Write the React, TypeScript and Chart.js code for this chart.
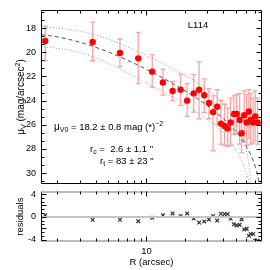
import React, { useEffect, useRef } from 'react';
import { Chart, registerables } from 'chart.js';

Chart.register(...registerables);

// ---- data ----
const radiusArcsec = [1.62, 3.8, 6.21, 8.63, 11.1, 13.45, 16.0, 18.5, 20.8, 23.4, 25.8, 28.3, 30.8, 33.2, 35.7, 38.2, 40.8, 43.1, 45.5, 48.3, 50.7, 53.5, 55.4, 58.1, 60.7, 63.2, 65.2, 68.3, 70.8, 73.9];
const surfBright = [19.07, 19.15, 20.05, 20.5, 21.6, 22.5, 23.2, 23.1, 24.0, 23.4, 23.1, 23.55, 24.2, 24.95, 24.5, 25.9, 26.1, 26.3, 25.8, 25.1, 25.1, 25.6, 26.7, 25.2, 25.8, 24.9, 25.6, 25.8, 25.3, 25.8];
const errUp = [1.23, 1.65, 1.15, 2.15, 1.4, 1.1, 0.8, 1.3, 1.4, 1.55, 2.3, 1.35, 1.2, 1.35, 1.4, 1.9, 1.8, 1.7, 2.0, 1.5, 1.6, 2.2, 1.5, 2.0, 2.3, 1.8, 2.2, 2.0, 2.1, 2.0];
const errDown = [1.63, 1.55, 1.15, 2.1, 1.3, 1.05, 0.8, 1.3, 1.3, 1.55, 2.4, 1.45, 1.3, 3.2, 1.45, 1.7, 1.6, 1.5, 1.9, 1.7, 1.6, 2.0, 1.6, 2.2, 1.9, 2.2, 2.0, 1.7, 2.0, 1.8];
const residuals = [0.3, -0.5, -0.5, -0.75, -0.15, 0.3, 0.6, 0.15, 0.6, -0.3, -1.0, -0.8, -0.45, 0.15, -0.65, 0.55, 0.5, 0.5, -0.3, -1.3, -1.5, -1.4, -0.45, -2.2, -2.1, -3.3, -3.0, -3.0, -4.2, -4.2];

// best-fit profile (dashed) and bounds (dotted)
const fitR = [1.5, 2, 3, 5, 8, 12, 18, 25, 35, 45, 55, 60, 65, 69, 72, 76, 79];
const fitMu = [18.55, 18.72, 19.16, 19.96, 20.91, 21.85, 22.89, 23.84, 24.97, 26.02, 27.11, 27.73, 28.43, 29.11, 29.72, 30.8, 32.1];
const upperR = [1.5, 3, 5, 8, 11, 16, 22, 30, 40, 46, 50, 55, 60, 63, 66];
const upperMu = [17.85, 18.25, 18.9, 19.8, 20.5, 21.35, 22.15, 23.1, 24.2, 24.95, 25.6, 26.7, 28.0, 29.2, 31.0];
const lowerR = [1.5, 3, 5, 8, 12, 18, 22, 28.6, 34, 40, 45, 50, 55, 60, 64, 68];
const lowerMu = [19.5, 20.0, 20.9, 22.0, 23.0, 24.0, 24.6, 25.4, 26.0, 26.7, 27.4, 28.1, 28.9, 29.9, 30.9, 32.2];

// ticks
const xMajorTicks = [10];
const xMinorTicks = [2, 3, 4, 5, 6, 7, 8, 9, 20, 30, 40, 50, 60, 70, 80];
const muTicks = [18, 20, 22, 24, 26, 28, 30];
const muMinorTicks = [16.67, 17.33, 18.67, 19.33, 20.67, 21.33, 22.67, 23.33, 24.67, 25.33, 26.67, 27.33, 28.67, 29.33, 30.67];
const resTicks = [-4, -2, 0, 2, 4];
const resMinorTicks = [-3.33, -2.67, -1.33, -0.67, 0.67, 1.33, 2.67, 3.33];

const FAM = '"Liberation Sans", Arial, Helvetica, sans-serif';
Chart.defaults.font.family = FAM;
Chart.defaults.color = '#000';

type Part = { t: string; s: number; dy?: number };

function measureRich(ctx: CanvasRenderingContext2D, parts: Part[]) {
  let w = 0;
  for (const p of parts) {
    ctx.font = `${p.s}px ${FAM}`;
    w += ctx.measureText(p.t).width;
  }
  return w;
}
function drawRich(ctx: CanvasRenderingContext2D, parts: Part[], x: number, y: number) {
  let cx = x;
  for (const p of parts) {
    ctx.font = `${p.s}px ${FAM}`;
    ctx.fillText(p.t, cx, y + (p.dy || 0));
    cx += ctx.measureText(p.t).width;
  }
}

const noPad = (s: any) => {
  s.paddingTop = 0;
  s.paddingBottom = 0;
  s.paddingLeft = 0;
  s.paddingRight = 0;
};

const frameTicks = {
  id: 'frameTicks',
  afterDatasetsDraw(chart: any, _args: any, opts: any) {
    const { ctx, chartArea: a, scales } = chart;
    const xs = scales.x, ys = scales.y;
    const L = Math.round(a.left) + 0.5, R = Math.round(a.right) - 0.5;
    const T = Math.round(a.top) + 0.5, B = Math.round(a.bottom) - 0.5;
    ctx.save();
    ctx.lineWidth = 1;
    ctx.strokeStyle = '#000';
    ctx.beginPath();
    ctx.moveTo(L, T); ctx.lineTo(L, B);
    ctx.moveTo(R, T); ctx.lineTo(R, B);
    if (!opts.grayTB) {
      ctx.moveTo(L, T); ctx.lineTo(R, T);
      ctx.moveTo(L, B); ctx.lineTo(R, B);
    }
    ctx.stroke();
    if (opts.grayTB) {
      ctx.strokeStyle = '#bdbdbd';
      ctx.lineWidth = 2;
      ctx.beginPath();
      ctx.moveTo(L, T + 0.5); ctx.lineTo(R, T + 0.5);
      ctx.moveTo(L, B - 0.5); ctx.lineTo(R, B - 0.5);
      ctx.stroke();
    }
    ctx.strokeStyle = '#000';
    ctx.lineWidth = 1;
    ctx.beginPath();
    const yt = (vals: number[], len: number) => {
      for (const v of vals) {
        const p = Math.round(ys.getPixelForValue(v)) + 0.5;
        if (p < a.top || p > a.bottom) continue;
        ctx.moveTo(L, p); ctx.lineTo(L + len, p);
        ctx.moveTo(R, p); ctx.lineTo(R - len, p);
      }
    };
    const xt = (vals: number[], len: number) => {
      for (const v of vals) {
        const p = Math.round(xs.getPixelForValue(v)) + 0.5;
        if (p < a.left || p > a.right) continue;
        ctx.moveTo(p, B); ctx.lineTo(p, B - len);
        ctx.moveTo(p, T); ctx.lineTo(p, T + len);
      }
    };
    yt(opts.yMajor, 5);
    yt(opts.yMinor, 3);
    xt(xMajorTicks, 5);
    xt(xMinorTicks, 3);
    ctx.stroke();
    ctx.restore();
  },
};

const errorBars = {
  id: 'errorBars',
  beforeDatasetsDraw(chart: any) {
    const { ctx, chartArea: a, scales } = chart;
    const xs = scales.x, ys = scales.y;
    ctx.save();
    ctx.beginPath();
    ctx.rect(a.left, a.top, a.right - a.left, a.bottom - a.top);
    ctx.clip();
    ctx.strokeStyle = 'rgba(244,150,150,0.85)';
    ctx.lineWidth = 1.3;
    ctx.beginPath();
    radiusArcsec.forEach((r, i) => {
      const x = xs.getPixelForValue(r);
      const y1 = ys.getPixelForValue(surfBright[i] - errUp[i]);
      const y2 = ys.getPixelForValue(surfBright[i] + errDown[i]);
      ctx.moveTo(x, y1); ctx.lineTo(x, y2);
      ctx.moveTo(x - 2.5, y1); ctx.lineTo(x + 2.5, y1);
      ctx.moveTo(x - 2.5, y2); ctx.lineTo(x + 2.5, y2);
    });
    ctx.stroke();
    ctx.restore();
  },
};

const mainText = {
  id: 'mainText',
  afterDraw(chart: any) {
    const { ctx, chartArea: a } = chart;
    ctx.save();
    ctx.fillStyle = '#000';
    ctx.textBaseline = 'alphabetic';
    ctx.textAlign = 'left';
    ctx.font = `9.5px ${FAM}`;
    const lw = ctx.measureText('L114').width;
    ctx.fillText('L114', 198 - lw / 2, 28);
    drawRich(ctx, [
      { t: 'μ', s: 10 },
      { t: 'V0', s: 7, dy: 2 },
      { t: ' = 18.2 ± 0.8 mag (*)', s: 9.5 },
      { t: '−2', s: 7, dy: -4 },
    ], 54, 130);
    drawRich(ctx, [
      { t: 'r', s: 9.5 },
      { t: 'c', s: 7, dy: 2 },
      { t: ' =  2.6 ± 1.1 "', s: 9.5 },
    ], 90, 152);
    drawRich(ctx, [
      { t: 'r', s: 9.5 },
      { t: 't', s: 7, dy: 2 },
      { t: ' = 83 ± 23 "', s: 9.5 },
    ], 100, 164);
    const parts: Part[] = [
      { t: 'μ', s: 10 },
      { t: 'V', s: 7, dy: 2 },
      { t: ' (mag/arcsec', s: 10 },
      { t: '2', s: 7, dy: -4 },
      { t: ')', s: 10 },
    ];
    ctx.translate(24, (a.top + a.bottom) / 2);
    ctx.rotate(-Math.PI / 2);
    const w = measureRich(ctx, parts);
    drawRich(ctx, parts, -w / 2, 0);
    ctx.restore();
  },
};

const resText = {
  id: 'resText',
  afterDraw(chart: any) {
    const { ctx, chartArea: a } = chart;
    ctx.save();
    ctx.fillStyle = '#000';
    ctx.textBaseline = 'alphabetic';
    ctx.font = `9.5px ${FAM}`;
    ctx.translate(22.5, (a.top + a.bottom) / 2);
    ctx.rotate(-Math.PI / 2);
    const w = ctx.measureText('residuals').width;
    ctx.fillText('residuals', -w / 2, 0);
    ctx.restore();
  },
};

const toXY = (xs: number[], ys: number[]) => xs.map((x, i) => ({ x, y: ys[i] }));

export default function App() {
  const mainRef = useRef<HTMLCanvasElement>(null);
  const resRef = useRef<HTMLCanvasElement>(null);

  useEffect(() => {
    const c1 = new Chart(mainRef.current as HTMLCanvasElement, {
      type: 'scatter',
      data: {
        datasets: [
          {
            data: toXY(upperR, upperMu),
            showLine: true,
            borderColor: '#9a9a9a',
            borderWidth: 1,
            borderDash: [1, 2],
            pointRadius: 0,
            cubicInterpolationMode: 'monotone',
          } as any,
          {
            data: toXY(lowerR, lowerMu),
            showLine: true,
            borderColor: '#9a9a9a',
            borderWidth: 1,
            borderDash: [1, 2],
            pointRadius: 0,
            cubicInterpolationMode: 'monotone',
          } as any,
          {
            data: toXY(fitR, fitMu),
            showLine: true,
            borderColor: '#555',
            borderWidth: 1,
            borderDash: [4, 3],
            pointRadius: 0,
            cubicInterpolationMode: 'monotone',
          } as any,
          {
            data: toXY(radiusArcsec, surfBright),
            pointRadius: 3.2,
            pointBackgroundColor: '#ff0000',
            pointBorderColor: '#ff0000',
            pointBorderWidth: 0,
          } as any,
        ],
      },
      options: {
        responsive: false,
        animation: false,
        devicePixelRatio: 1,
        layout: { padding: { left: 0, right: 8, top: 10, bottom: 0 } },
        plugins: {
          legend: { display: false },
          tooltip: { enabled: false },
          frameTicks: { yMajor: muTicks, yMinor: muMinorTicks, grayTB: false },
        } as any,
        scales: {
          x: {
            type: 'logarithmic',
            min: 1.5,
            max: 80,
            ticks: { display: false },
            grid: { display: false, drawTicks: false },
            border: { display: false },
            afterFit: (s: any) => { s.height = 3; noPad(s); },
          },
          y: {
            type: 'linear',
            reverse: true,
            min: 16.5,
            max: 30.9,
            afterBuildTicks: (s: any) => { s.ticks = muTicks.map((v) => ({ value: v })); },
            ticks: { font: { size: 9, family: FAM }, color: '#000', padding: 5 },
            grid: { display: false, drawTicks: false },
            border: { display: false },
            afterFit: (s: any) => { s.width = 41; noPad(s); },
          },
        },
      } as any,
      plugins: [errorBars, frameTicks, mainText],
    });

    const c2 = new Chart(resRef.current as HTMLCanvasElement, {
      type: 'scatter',
      data: {
        datasets: [
          {
            data: [{ x: 1.5, y: 0 }, { x: 80, y: 0 }],
            showLine: true,
            borderColor: '#c4c4c4',
            borderWidth: 2,
            pointRadius: 0,
          } as any,
          {
            data: toXY(radiusArcsec, residuals),
            pointStyle: 'crossRot',
            pointRadius: 2.6,
            pointBorderColor: '#333',
            pointBorderWidth: 1.2,
          } as any,
        ],
      },
      options: {
        responsive: false,
        animation: false,
        devicePixelRatio: 1,
        layout: { padding: { left: 0, right: 8, top: 2, bottom: 0 } },
        plugins: {
          legend: { display: false },
          tooltip: { enabled: false },
          frameTicks: { yMajor: resTicks, yMinor: resMinorTicks, grayTB: true },
        } as any,
        scales: {
          x: {
            type: 'logarithmic',
            min: 1.5,
            max: 80,
            afterBuildTicks: (s: any) => { s.ticks = xMajorTicks.map((v) => ({ value: v })); },
            ticks: {
              font: { size: 9.5, family: FAM },
              color: '#000',
              padding: 4,
              autoSkip: false,
              maxRotation: 0,
              callback: (v: any) => String(v),
            },
            title: {
              display: true,
              text: 'R (arcsec)',
              font: { size: 9.5, family: FAM },
              color: '#000',
              padding: { top: 0, bottom: 2 },
            },
            grid: { display: false, drawTicks: false },
            border: { display: false },
            afterFit: (s: any) => { s.height = 28; noPad(s); },
          },
          y: {
            type: 'linear',
            min: -4.4,
            max: 4.5,
            afterBuildTicks: (s: any) => { s.ticks = resTicks.map((v) => ({ value: v })); },
            ticks: { font: { size: 9, family: FAM }, color: '#000', padding: 5 },
            grid: { display: false, drawTicks: false },
            border: { display: false },
            afterFit: (s: any) => { s.width = 41; noPad(s); },
          },
        },
      } as any,
      plugins: [frameTicks, resText],
    });

    return () => {
      c1.destroy();
      c2.destroy();
    };
  }, []);

  return (
    <div style={{ position: 'fixed', left: 0, top: 0, width: 270, height: 270, background: '#fff', overflow: 'hidden' }}>
      <canvas ref={mainRef} width={270} height={188} style={{ position: 'absolute', left: 0, top: 0 }} />
      <canvas ref={resRef} width={270} height={84} style={{ position: 'absolute', left: 0, top: 186 }} />
    </div>
  );
}
